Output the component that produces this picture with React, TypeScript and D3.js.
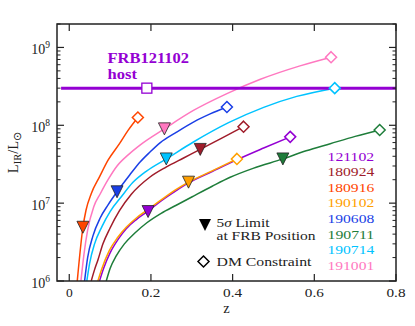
import React from "react";
import * as d3 from "d3";

const FRB_IDS = ["121102", "180924", "180916", "190102", "190608", "190711", "190714", "191001"];
const FRB_COLORS = ["#9400D3", "#A01C2A", "#FF4500", "#FFA000", "#1A3FE6", "#1E7D3A", "#00C3FF", "#FF78C0"];

// Curves: [z, L_IR/L_sun]
const curve121102 = [[0.074, 1e6], [0.084, 1.45e6], [0.1, 2.3e6], [0.12, 3.45e6], [0.1395, 4.7e6], [0.165, 6.2e6], [0.193, 7.9e6], [0.225, 1.07e7], [0.262, 1.45e7], [0.292, 1.82e7], [0.35, 2.55e7], [0.41, 3.6e7], [0.476, 5.1e7], [0.541, 7.1e7]];
const curve180924 = [[0.0538, 1e6], [0.062, 1.4e6], [0.07, 1.85e6], [0.0825, 3.0e6], [0.1, 4.8e6], [0.123, 8.0e6], [0.152, 1.3e7], [0.197, 2.15e7], [0.237, 2.9e7], [0.28, 3.8e7], [0.3207, 4.9e7], [0.37, 6.7e7], [0.4267, 9.6e7]];
const curve180916 = [[0.0196, 1e6], [0.0335, 4.9e6], [0.041, 8.1e6], [0.054, 1.33e7], [0.074, 2.17e7], [0.095, 3.56e7], [0.123, 5.8e7], [0.144, 8.6e7], [0.168, 1.26e8]];
const curve190102 = [[0.07, 1e6], [0.08, 1.45e6], [0.098, 2.45e6], [0.118, 3.6e6], [0.1395, 4.9e6], [0.165, 6.5e6], [0.193, 8.3e6], [0.225, 1.1e7], [0.262, 1.5e7], [0.292, 1.86e7], [0.35, 2.6e7], [0.4105, 3.7e7]];
const curve190608 = [[0.0375, 1e6], [0.045, 2.0e6], [0.058, 3.8e6], [0.076, 6.5e6], [0.095, 9.5e6], [0.117, 1.4e7], [0.148, 2.3e7], [0.174, 3.4e7], [0.197, 4.5e7], [0.223, 6.0e7], [0.26, 8.0e7], [0.304, 1.1e8], [0.345, 1.4e8], [0.386, 1.72e8]];
const curve190711 = [[0.0906, 1e6], [0.1, 1.45e6], [0.115, 2.1e6], [0.135, 3.0e6], [0.16, 4.1e6], [0.19, 5.6e6], [0.225, 7.4e6], [0.262, 9.4e6], [0.3, 1.2e7], [0.35, 1.65e7], [0.394, 2.15e7], [0.45, 2.8e7], [0.523, 3.7e7], [0.58, 4.7e7], [0.639, 5.8e7], [0.7, 7.2e7], [0.76, 8.7e7]];
const curve190714 = [[0.043, 1e6], [0.05, 1.7e6], [0.062, 3.0e6], [0.08, 5.0e6], [0.1, 7.8e6], [0.127, 1.2e7], [0.156, 1.85e7], [0.19, 2.6e7], [0.2375, 3.7e7], [0.304, 6.1e7], [0.39, 1.08e8], [0.476, 1.7e8], [0.557, 2.35e8], [0.65, 3.0e8]];
const curve191001 = [[0.0286, 1e6], [0.036, 2.2e6], [0.045, 4.5e6], [0.06, 9e6], [0.076, 1.32e7], [0.095, 2.0e7], [0.117, 3.0e7], [0.145, 4.2e7], [0.174, 5.6e7], [0.233, 9.0e7], [0.304, 1.55e8], [0.386, 2.55e8], [0.468, 3.9e8], [0.565, 5.8e8], [0.641, 7.5e8]];
const CURVES = [curve121102, curve180924, curve180916, curve190102, curve190608, curve190711, curve190714, curve191001];

// 5-sigma limits at FRB positions
const LIMIT_Z = [0.193, 0.3207, 0.0335, 0.292, 0.117, 0.523, 0.2375, 0.233];
const LIMIT_L = [7.8e6, 4.9e7, 4.9e6, 1.86e7, 1.4e7, 3.7e7, 3.7e7, 9.0e7];

// DM constraints
const DM_Z = [0.541, 0.4267, 0.168, 0.4105, 0.386, 0.76, 0.65, 0.641];
const DM_L = [7.1e7, 9.6e7, 1.26e8, 3.7e7, 1.72e8, 8.7e7, 3.0e8, 7.5e8];

const HOST_L = 3e8;
const HOST_Z = 0.19;

const X_TICKS = [0, 0.2, 0.4, 0.6, 0.8];
const X_TICK_LABELS = ["0", "0.2", "0.4", "0.6", "0.8"];
const Y_DECADES = [6, 7, 8, 9];

const W = 415, H = 326;
const L = 57, R = 396, T = 24, B = 281;
const FONT = "'Liberation Serif', 'Times New Roman', serif";

export default function App() {
  const x = d3.scaleLinear().domain([-0.03, 0.8]).range([L, R]);
  const y = d3.scaleLog().domain([1e6, 2e9]).range([B, T]);
  const line = d3.line<number[]>().x(d => x(d[0])).y(d => y(d[1])).curve(d3.curveMonotoneX);

  const minor: number[] = [];
  for (let e = 6; e <= 9; e++) for (let m = 2; m <= 9; m++) { const v = m * Math.pow(10, e); if (v <= 2e9) minor.push(v); }

  const tri = (cx: number, cy: number, s: number) => `M${cx - s / 2},${cy - s / 2}L${cx + s / 2},${cy - s / 2}L${cx},${cy + s / 2}Z`;
  const dia = (cx: number, cy: number, s: number) => `M${cx},${cy - s / 2}L${cx + s / 2},${cy}L${cx},${cy + s / 2}L${cx - s / 2},${cy}Z`;
  const ts = { fontFamily: FONT };

  return (
    <svg width={W} height={H} style={{ position: "absolute", left: 0, top: 0, background: "#fff", fontFamily: FONT }}>
      <defs>
        <clipPath id="plot"><rect x={L} y={T} width={R - L} height={B - T} /></clipPath>
      </defs>
      <g clipPath="url(#plot)">
        {CURVES.map((c, i) => (
          <path key={i} d={line(c) || ""} fill="none" stroke={FRB_COLORS[i]} strokeWidth={1.5} />
        ))}
        <line x1={x(-0.02)} x2={R} y1={y(HOST_L)} y2={y(HOST_L)} stroke="#9400D3" strokeWidth={3} />
      </g>
      <rect x={x(HOST_Z) - 5} y={y(HOST_L) - 5} width={10} height={10} fill="#fff" stroke="#9400D3" strokeWidth={1.3} />
      {LIMIT_Z.map((z, i) => (
        <path key={"t" + i} d={tri(x(z), y(LIMIT_L[i]), 12)} fill={FRB_COLORS[i]} stroke="#222" strokeWidth={0.8} />
      ))}
      {DM_Z.map((z, i) => (
        <path key={"d" + i} d={dia(x(z), y(DM_L[i]), 11)} fill="#fff" stroke={FRB_COLORS[i]} strokeWidth={1.5} />
      ))}

      {/* axes frame */}
      <rect x={L} y={T} width={R - L} height={B - T} fill="none" stroke="#222" strokeWidth={1.5} />
      {X_TICKS.map((t, i) => (
        <g key={"xt" + i}>
          <line x1={x(t)} x2={x(t)} y1={B} y2={B - 7} stroke="#222" strokeWidth={1.2} />
          <line x1={x(t)} x2={x(t)} y1={T} y2={T + 7} stroke="#222" strokeWidth={1.2} />
          <text style={ts} x={x(t)} y={297} textAnchor="middle" fontSize={13.5} fill="#222"
            textLength={X_TICK_LABELS[i].length > 1 ? 19 : undefined} lengthAdjust="spacingAndGlyphs">{X_TICK_LABELS[i]}</text>
        </g>
      ))}
      {Y_DECADES.map((e) => (
        <g key={"yd" + e}>
          <line x1={L} x2={L + 7} y1={y(Math.pow(10, e))} y2={y(Math.pow(10, e))} stroke="#222" strokeWidth={1.2} />
          <line x1={R} x2={R - 7} y1={y(Math.pow(10, e))} y2={y(Math.pow(10, e))} stroke="#222" strokeWidth={1.2} />
          <text style={ts} x={50} y={y(Math.pow(10, e)) + 7} textAnchor="end" fontSize={14} fill="#222">
            10<tspan dy={-6} fontSize={9.5}>{e}</tspan>
          </text>
        </g>
      ))}
      {minor.map((v, i) => (
        <g key={"ym" + i}>
          <line x1={L} x2={L + 3.5} y1={y(v)} y2={y(v)} stroke="#222" strokeWidth={1} />
          <line x1={R} x2={R - 3.5} y1={y(v)} y2={y(v)} stroke="#222" strokeWidth={1} />
        </g>
      ))}

      {/* axis labels */}
      <text style={ts} x={(L + R) / 2} y={313} textAnchor="middle" fontSize={14.5} fill="#222">z</text>
      <text style={ts} transform={`translate(18,${(T + B) / 2}) rotate(-90)`} textAnchor="middle" fontSize={14.5} fill="#222">
        L<tspan dy={3} fontSize={10.5}>IR</tspan><tspan dy={-3}>/L</tspan><tspan dy={3} fontSize={10.5}>⊙</tspan>
      </text>

      {/* host label */}
      <text style={ts} x={107.5} y={63} fontSize={14.5} fontWeight="bold" fill="#9400D3" textLength={81.5} lengthAdjust="spacingAndGlyphs">FRB121102</text>
      <text style={ts} x={107.5} y={79} fontSize={14.5} fontWeight="bold" fill="#9400D3" textLength={29.5} lengthAdjust="spacingAndGlyphs">host</text>

      {/* marker legend */}
      <path d={tri(205, 225, 12)} fill="#000" />
      <text style={ts} x={216.5} y={227} fontSize={12.5} fill="#222" textLength={53} lengthAdjust="spacingAndGlyphs">5<tspan fontStyle="italic">σ</tspan> Limit</text>
      <text style={ts} x={216.5} y={240} fontSize={12.5} fill="#222" textLength={99} lengthAdjust="spacingAndGlyphs">at FRB Position</text>
      <path d={dia(203.5, 261.5, 11)} fill="#fff" stroke="#000" strokeWidth={1.5} />
      <text style={ts} x={216.5} y={265.5} fontSize={13} fill="#222" textLength={95} lengthAdjust="spacingAndGlyphs">DM Constraint</text>

      {/* FRB legend */}
      {FRB_IDS.map((id, i) => (
        <text style={ts} key={id} x={327.5} y={160.5 + i * 15.6} fontSize={13.5} fill={FRB_COLORS[i]}
          textLength={46.7} lengthAdjust="spacingAndGlyphs">{id}</text>
      ))}
    </svg>
  );
}
